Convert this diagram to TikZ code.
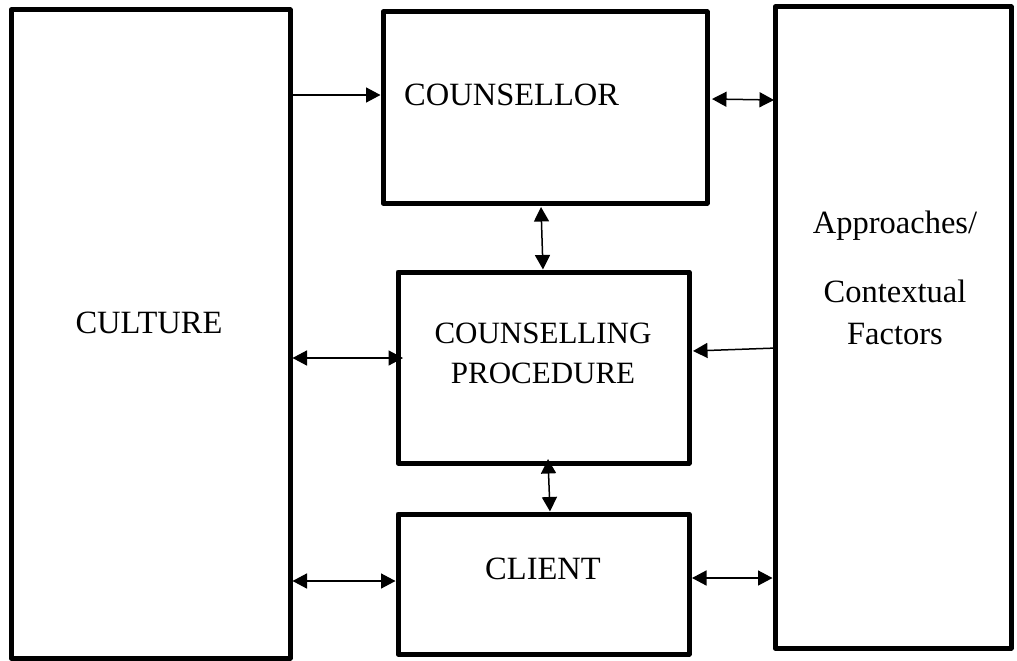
\documentclass[tikz,border=0pt]{standalone}
\usepackage{fontspec}
\setmainfont{Liberation Serif}
\usetikzlibrary{arrows.meta,calc}
\tikzset{
  blockbox/.style={draw=black, line width=5pt, line join=round, outer sep=0pt, inner sep=0pt, fill=none},
  lbl/.style={inner sep=0pt, font=\fontsize{32.5}{38}\selectfont},
  lblsm/.style={inner sep=0pt, font=\fontsize{31}{37}\selectfont},
  conn/.style={line width=1.5pt, -{Triangle[length=14.5pt,width=15pt]}},
  dconn/.style={line width=1.5pt, {Triangle[length=14.5pt,width=15pt]}-{Triangle[length=14.5pt,width=15pt]}}
}
\begin{document}
\begin{tikzpicture}[x=1pt,y=-1pt]
\useasboundingbox[fill=white] (0,0) rectangle (1017,661);
% boxes
\node[blockbox, minimum width=279pt, minimum height=648pt] (culture) at (150.5,334) {};
\node[blockbox, minimum width=324pt, minimum height=191pt] (counsellor) at (545,107.5) {};
\node[blockbox, minimum width=291pt, minimum height=191pt] (cp) at (543.5,367.5) {};
\node[blockbox, minimum width=291pt, minimum height=140pt] (client) at (543.5,584) {};
\node[blockbox, minimum width=236pt, minimum height=641pt] (approaches) at (893,327.5) {};
% labels
\node[lbl, anchor=base] (tculture) at (149,333) {CULTURE};
\node[lbl, anchor=base west] (tcounsellor) at (404,105) {COUNSELLOR};
\node[lblsm, anchor=base] (tcp1) at (543,343) {COUNSELLING};
\node[lblsm, anchor=base] (tcp2) at (543,383) {PROCEDURE};
\node[lbl, anchor=base] (tclient) at (543,579) {CLIENT};
\node[lbl, anchor=base] (tap1) at (895,233) {Approaches/};
\node[lbl, anchor=base] (tap2) at (895,302) {Contextual};
\node[lbl, anchor=base] (tap3) at (895,344) {Factors};
% connectors
\draw[conn] ($(culture.north east)+(2.5,85)$) -- ($(counsellor.north west)+(-2.5,83)$);
\draw[dconn] ($(counsellor.north east)+(5,87)$) -- ($(approaches.north west)+(-1,93)$);
\draw[dconn] ($(counsellor.south)+(-4,4)$) -- ($(cp.north)+(-0.5,-2.5)$);
\draw[dconn] ($(culture.north east)+(2.5,348)$) -- ($(cp.north west)+(5,86)$);
\draw[conn] ($(approaches.north west)+(2,341)$) -- ($(cp.north east)+(4,79)$);
\draw[dconn] ($(cp.south)+(4.5,-4)$) -- ($(client.north)+(6.5,-2.5)$);
\draw[dconn] ($(culture.north east)+(2.5,571)$) -- ($(client.north west)+(-2.5,67)$);
\draw[dconn] ($(client.north east)+(3,64)$) -- ($(approaches.north west)+(-2.5,571)$);
\end{tikzpicture}
\end{document}
